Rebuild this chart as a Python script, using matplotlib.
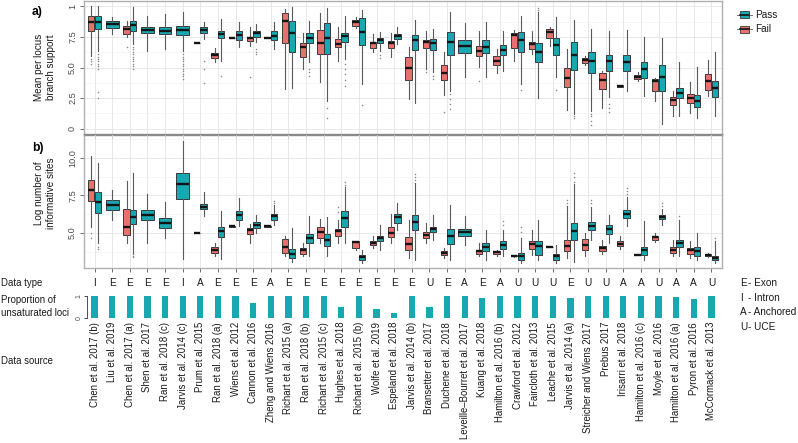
import matplotlib
matplotlib.use('Agg')
import matplotlib.pyplot as plt
from matplotlib.patches import Rectangle
from matplotlib.lines import Line2D
from matplotlib.transforms import blended_transform_factory

plt.rcParams['font.family'] = ['Liberation Sans', 'DejaVu Sans']

# ---------------- data ----------------
sources = ["Chen et al. 2017 (b)", "Liu et al. 2019", "Chen et al. 2017 (a)", "Shen et al. 2017",
           "Ran et al. 2018 (c)", "Jarvis et al. 2014 (c)", "Prum et al. 2015", "Ran et al. 2018 (a)",
           "Wiens et al. 2012", "Cannon et al. 2016", "Zheng and Wiens 2016", "Richart et al. 2015 (a)",
           "Ran et al. 2018 (b)", "Richart et al. 2015 (c)", "Hughes et al. 2018", "Richart et al. 2015 (b)",
           "Wolfe et al. 2019", "Espeland et al. 2018", "Jarvis et al. 2014 (b)", "Bransetter et al. 2017",
           "Duchene et al. 2018", "Leveille\u2013Bourret et al. 2017", "Kuang et al. 2018", "Hamilton et al. 2016 (b)",
           "Crawford et al. 2012", "Faircloth et al. 2013", "Leache et al. 2015", "Jarvis et al. 2014 (a)",
           "Streicher and Wiens 2017", "Prebus 2017", "Irisarri et al. 2018", "Hamilton et al. 2016 (c)",
           "Moyle et al. 2016", "Hamilton et al. 2016 (a)", "Pyron et al. 2016", "McCormack et al. 2013"]

data_types = ["I", "E", "E", "E", "E", "I", "A", "E", "E", "E", "A", "E", "E", "E", "E", "E", "E", "E",
              "E", "U", "E", "A", "E", "A", "U", "U", "U", "E", "U", "U", "A", "A", "U", "A", "A", "U"]

unsaturated = [0.97, 1.0, 1.0, 1.0, 1.0, 1.0, 1.0, 1.0, 0.98, 0.68, 1.0, 1.0, 1.0, 1.0, 0.5, 1.0, 0.4, 0.22,
               1.0, 0.5, 1.0, 1.0, 0.9, 1.0, 1.0, 1.0, 0.99, 0.9, 1.0, 1.0, 1.0, 1.0, 1.0, 0.95, 0.84, 1.0]

# five-number summaries (whisker low, Q1, median, Q3, whisker high); None = group absent
a_fail = [(5.97, 7.97, 8.71, 9.2, 10.0), None, (7.48, 7.75, 8.16, 8.44, 8.8), None, None, None,
          (6.99, 6.99, 7.0, 7.01, 7.01), (5.42, 5.78, 6.03, 6.19, 6.58), (7.42, 7.42, 7.43, 7.44, 7.44),
          (6.8, 7.21, 7.4, 7.53, 8.36), (7.42, 7.42, 7.43, 7.44, 7.44), (3.23, 6.99, 8.79, 9.48, 9.81),
          (4.88, 5.89, 6.66, 6.99, 7.81), (3.78, 6.11, 6.99, 8.08, 9.45), (5.56, 6.66, 6.93, 7.34, 8.3),
          (8.25, 8.44, 8.71, 8.9, 9.18), (6.25, 6.6, 6.99, 7.12, 7.75), (5.84, 6.6, 6.99, 7.21, 7.81),
          (2.41, 3.97, 4.93, 5.89, 6.66), (4.88, 6.6, 7.07, 7.26, 8.03), (2.74, 3.97, 4.55, 5.23, 6.25),
          None, (5.01, 5.97, 6.38, 6.74, 7.97), (4.52, 5.23, 5.56, 5.92, 6.52),
          (5.56, 6.58, 7.67, 7.84, 8.11), (6.11, 6.52, 6.93, 7.07, 7.89), (6.8, 7.42, 7.89, 8.16, 8.36),
          (1.53, 3.45, 4.11, 4.93, 6.52), (5.21, 5.37, 5.62, 5.78, 5.97), (1.73, 3.23, 4.0, 4.55, 4.74),
          (3.45, 3.45, 3.5, 3.55, 3.55), (3.92, 4.05, 4.25, 4.38, 4.6), (2.27, 3.1, 3.92, 4.05, 4.11),
          (1.04, 1.92, 2.33, 2.55, 3.1), (1.32, 2.08, 2.47, 2.82, 3.78), (2.68, 3.15, 3.86, 4.47, 5.62)]

a_pass = [(6.38, 8.16, 8.71, 9.2, 10.0), (7.75, 8.25, 8.58, 8.79, 9.18), (6.93, 7.97, 8.49, 8.85, 9.95),
          (6.38, 7.81, 8.08, 8.36, 9.26), (6.52, 7.75, 8.03, 8.3, 9.4), (6.38, 7.67, 8.08, 8.38, 9.59),
          (7.34, 7.84, 8.08, 8.3, 8.77), (5.56, 7.4, 7.75, 8.03, 8.99), (6.66, 7.29, 7.67, 8.03, 8.71),
          (7.07, 7.53, 7.81, 7.97, 8.58), (6.52, 7.26, 7.62, 7.97, 8.71), (3.29, 6.3, 7.81, 8.85, 9.95),
          (5.42, 6.99, 7.42, 7.81, 8.85), (2.27, 6.11, 7.42, 8.63, 9.89), (5.7, 7.12, 7.56, 7.84, 9.2),
          (3.64, 6.85, 7.89, 9.07, 9.73), (6.38, 6.99, 7.26, 7.42, 7.89), (6.93, 7.34, 7.56, 7.75, 8.3),
          (2.14, 6.44, 7.26, 7.67, 8.9), (4.6, 6.44, 6.99, 7.34, 8.16), (3.1, 6.03, 7.12, 7.95, 9.53),
          (4.19, 6.16, 6.74, 7.29, 8.63), (4.19, 6.16, 6.71, 7.26, 8.77), (4.74, 6.03, 6.44, 6.88, 8.03),
          (3.64, 6.25, 7.26, 7.95, 9.26), (2.47, 5.42, 6.25, 6.99, 9.53), (4.19, 6.03, 6.85, 7.42, 9.18),
          (1.18, 4.79, 6.05, 7.07, 8.9), (1.45, 4.55, 5.51, 6.25, 8.16), (2.55, 4.74, 5.51, 6.05, 7.97),
          (3.1, 4.74, 5.48, 6.03, 8.08), (2.68, 4.11, 4.88, 5.42, 7.48), (0.36, 3.1, 4.19, 5.21, 7.42),
          (1.04, 2.47, 2.9, 3.32, 5.42), (0.9, 1.81, 2.27, 2.77, 5.07), (1.04, 2.63, 3.29, 3.92, 6.25)]

b_fail = [(5.37, 7.14, 7.86, 8.52, 10.11), None, (4.34, 4.89, 5.4, 6.61, 8.48), None, None, None,
          (4.99, 4.99, 5.0, 5.01, 5.01), (3.46, 3.68, 3.9, 4.07, 4.34), (5.43, 5.43, 5.44, 5.45, 5.45),
          (4.34, 4.93, 5.22, 5.33, 5.62), (5.43, 5.43, 5.44, 5.45, 5.45), (3.46, 3.68, 4.07, 4.6, 4.82),
          (3.5, 3.63, 3.85, 4.0, 4.34), (4.34, 4.67, 5.04, 5.4, 5.93), (4.34, 4.82, 5.11, 5.26, 5.88),
          (3.9, 4.0, 4.38, 4.45, 4.45), (4.0, 4.19, 4.34, 4.45, 4.82), (4.34, 4.74, 5.0, 5.4, 6.28),
          (3.35, 3.9, 4.27, 4.74, 5.88), (4.34, 4.67, 4.89, 5.04, 5.66), (3.35, 3.52, 3.68, 3.79, 4.0),
          None, (3.46, 3.63, 3.79, 3.9, 4.34), (3.5, 3.61, 3.72, 3.79, 3.9),
          (3.44, 3.46, 3.5, 3.52, 3.54), (3.57, 3.96, 4.27, 4.45, 5.22), (4.06, 4.06, 4.07, 4.08, 4.08),
          (3.35, 3.79, 4.16, 4.56, 6.8), (3.46, 3.85, 4.23, 4.6, 5.0), (3.63, 3.83, 4.0, 4.16, 4.56),
          (3.96, 4.12, 4.3, 4.45, 4.78), (3.51, 3.51, 3.52, 3.53, 3.53), (4.38, 4.56, 4.74, 4.82, 5.0),
          (3.46, 3.68, 3.9, 4.07, 4.56), (3.35, 3.61, 3.85, 4.0, 4.45), (3.39, 3.46, 3.52, 3.61, 3.68)]

b_pass = [(4.34, 6.32, 7.09, 7.75, 9.63), (5.88, 6.54, 6.87, 7.2, 7.86), (3.68, 5.59, 6.06, 6.54, 8.96),
          (4.34, 5.88, 6.21, 6.54, 7.6), (4.67, 5.33, 5.66, 5.99, 7.09), (3.3, 7.27, 8.26, 9.0, 11.1),
          (6.1, 6.59, 6.76, 6.94, 7.75), (3.3, 4.74, 5.11, 5.37, 6.43), (5.44, 5.88, 6.17, 6.48, 7.31),
          (5.0, 5.33, 5.55, 5.7, 6.21), (5.55, 5.88, 6.1, 6.28, 6.87), (3.1, 3.35, 3.63, 3.94, 5.33),
          (3.46, 4.34, 4.67, 4.96, 6.1), (3.46, 4.12, 4.56, 4.93, 6.06), (4.34, 5.4, 5.99, 6.48, 8.08),
          (3.0, 3.19, 3.41, 3.57, 3.9), (3.9, 4.45, 4.67, 4.82, 5.55), (5.22, 5.66, 6.06, 6.28, 6.98),
          (3.2, 5.18, 5.73, 6.21, 8.3), (4.56, 5.04, 5.26, 5.4, 6.21), (3.24, 4.27, 4.82, 5.26, 6.87),
          (4.23, 4.82, 5.07, 5.26, 6.1), (3.24, 3.79, 4.07, 4.34, 5.22), (3.46, 3.96, 4.23, 4.45, 5.22),
          (3.0, 3.19, 3.46, 3.68, 4.67), (3.24, 3.57, 4.12, 4.49, 5.84), (3.02, 3.24, 3.46, 3.63, 4.23),
          (3.1, 4.52, 5.11, 5.66, 8.26), (4.56, 5.22, 5.48, 5.73, 6.76), (4.34, 4.96, 5.29, 5.55, 6.21),
          (5.44, 5.99, 6.26, 6.54, 7.42), (3.24, 3.52, 3.85, 4.07, 5.77), (5.55, 5.93, 6.06, 6.17, 6.61),
          (3.46, 4.07, 4.34, 4.56, 5.88), (3.24, 3.46, 3.79, 4.07, 5.0), (3.0, 3.19, 3.35, 3.5, 4.45)]

# outliers keyed by data-source index
a_fail_out = {0: [5.3, 5.5, 5.7], 2: [6.7], 9: [4.2], 19: [4.6], 20: [1.37], 22: [3.9], 25: [8.0]}
a_pass_out = {0: [2.47, 2.96, 4.9, 5.1, 5.3, 5.5, 5.7, 5.9, 6.1],
              2: [4.9, 5.1, 5.3, 5.5, 5.7, 5.9, 6.1, 6.3, 6.5, 6.7],
              5: [4.05, 4.3, 4.5, 4.7, 4.9, 5.1, 5.3, 5.5, 5.7, 5.9, 6.1],
              6: [3.7, 4.9, 5.56], 7: [4.33], 9: [6.1, 6.3, 6.5], 12: [4.33, 4.6, 4.9],
              13: [0.9, 1.73], 14: [3.5, 4.0, 4.5, 4.9, 5.3], 15: [1.95], 16: [5.78, 6.0],
              19: [4.1, 4.3], 20: [1.59, 2.0, 2.4, 2.8], 24: [3.2], 25: [9.7, 9.9], 26: [3.2],
              27: [0.9, 1.0], 28: [0.3, 0.6, 1.0, 1.2], 29: [1.4, 1.7, 2.0]}
b_fail_out = {0: [4.67, 5.0], 14: [6.4, 6.72], 27: [7.0, 7.2]}
b_pass_out = {0: [3.94, 4.1], 2: [3.4, 3.5, 3.6], 10: [7.0, 7.1], 14: [8.2, 8.4], 18: [8.5, 8.7, 8.9],
              23: [5.5, 5.8], 24: [5.1, 5.4], 27: [8.4, 8.7, 9.0], 28: [7.0, 7.2],
              30: [7.6, 7.8, 8.0], 32: [6.8, 7.0], 33: [6.1], 35: [4.7]}

a_ticks = [0, 2.5, 5.0, 7.5, 10]
a_ticklabels = ["0", "2.5", "5.0", "7.5", "1"]
b_ticks = [5.0, 7.5, 10.0]
b_ticklabels = ["5.0", "7.5", "10.0"]

type_legend = [("E", "- Exon"), ("I", "- Intron"), ("A", "- Anchored"), ("U", "- UCE")]

# ---------------- figure ----------------
PASS = '#17A8B2'
FAIL = '#E8716E'
TXT = '#1a1a1a'
W, H = 798, 443
fig = plt.figure(figsize=(W / 100, H / 100), dpi=100)


def rect(l, t, r, b):
    return [l / W, 1 - b / H, (r - l) / W, (b - t) / H]


def fy(y):
    return 1 - y / H


axA = fig.add_axes(rect(84, 1, 722, 135))
axB = fig.add_axes(rect(84, 134, 722, 268))
axU = fig.add_axes(rect(87, 295.7, 722, 317.7))

n = len(sources)


def draw(ax, fail, pas, fail_out, pass_out):
    for i in range(n):
        if fail[i] is None:
            items = [(pas[i], i, 0.72, PASS, pass_out.get(i, []))]
        else:
            items = [(fail[i], i - 0.1875, 0.36, FAIL, fail_out.get(i, [])),
                     (pas[i], i + 0.1875, 0.36, PASS, pass_out.get(i, []))]
        for st, pos, w, col, out in items:
            lo, q1, med, q3, hi = st
            stats = [dict(whislo=lo, q1=q1, med=med, q3=q3, whishi=hi, fliers=out)]
            ax.bxp(stats, positions=[pos], widths=[w], patch_artist=True, showcaps=False,
                   manage_ticks=False,
                   boxprops=dict(facecolor=col, edgecolor='#3a3a3a', linewidth=0.7),
                   medianprops=dict(color='#141414', linewidth=1.7, solid_capstyle='butt'),
                   whiskerprops=dict(color='#5a5a5a', linewidth=0.8),
                   flierprops=dict(marker='o', markersize=1.1, markerfacecolor='#888888',
                                   markeredgecolor='none'))


draw(axA, a_fail, a_pass, a_fail_out, a_pass_out)
draw(axB, b_fail, b_pass, b_fail_out, b_pass_out)

for ax in (axA, axB):
    ax.set_xlim(-0.6, n - 0.4)
    ax.set_xticks(range(n))
    ax.set_xticklabels([])
    ax.tick_params(axis='x', length=3, color='#555555', width=0.6)
    ax.tick_params(axis='y', length=3, color='#555555', width=0.6, pad=2,
                   labelsize=6.6, labelcolor='#4d4d4d')
    ax.grid(which='major', color='#e4e4e4', linewidth=0.6)
    ax.grid(which='minor', axis='y', color='#f0f0f0', linewidth=0.4)
    ax.tick_params(which='minor', length=0)
    for s in ax.spines.values():
        s.set_color('#b0b0b0')
        s.set_linewidth(1.0)
    ax.set_axisbelow(True)

axA.set_ylim(-0.52, 10.45)
axA.set_yticks(a_ticks)
axA.set_yticklabels(a_ticklabels, rotation=90, va='center')
axA.set_yticks([1.25, 3.75, 6.25, 8.75], minor=True)
axA.spines['bottom'].set_color('#8a8a8a')

axB.set_ylim(2.68, 11.57)
axB.set_yticks(b_ticks)
axB.set_yticklabels(b_ticklabels, rotation=90, va='center')
axB.set_yticks([3.75, 6.25, 8.75, 11.25], minor=True)
axB.spines['top'].set_color('#8a8a8a')
axB.patch.set_alpha(0)

# proportion of unsaturated loci
axU.bar(range(n), unsaturated, width=0.36, color=PASS)
axU.set_xlim(-0.43, n - 0.4)
axU.set_ylim(0, 1)
for k in ('top', 'right', 'bottom'):
    axU.spines[k].set_visible(False)
axU.spines['left'].set_color('#333333')
axU.spines['left'].set_linewidth(0.6)
axU.set_xticks([])
axU.set_yticks([0, 1])
axU.set_yticklabels(["0", "1"], rotation=90, va='center', fontsize=5.0, color='#4d4d4d')
axU.tick_params(axis='y', length=2, width=0.6, pad=1, color='#333333')
axU.patch.set_alpha(0)

tr = blended_transform_factory(axA.transData, fig.transFigure)
for i in range(n):
    fig.text(i, fy(283), data_types[i], transform=tr, ha='center', va='center',
             fontsize=7.3, color=TXT)
    fig.text(i, fy(322), sources[i], transform=tr, ha='center', va='top', rotation=90,
             fontsize=6.95, color=TXT)

# left labels
LS = 6.9
fig.text(1 / W, fy(283), "Data type", ha='left', va='center', fontsize=LS, color=TXT)
fig.text(1 / W, fy(300), "Proportion of", ha='left', va='center', fontsize=LS, color=TXT)
fig.text(1 / W, fy(313.5), "unsaturated loci", ha='left', va='center', fontsize=LS, color=TXT)
fig.text(1 / W, fy(360.5), "Data source", ha='left', va='center', fontsize=LS, color=TXT)

# y-axis titles
YS = 7.1
fig.text(39.5 / W, fy(67), "Mean per locus", rotation=90, ha='center', va='center', fontsize=YS,
         color=TXT)
fig.text(50.5 / W, fy(67), "branch support", rotation=90, ha='center', va='center', fontsize=YS,
         color=TXT)
fig.text(39.5 / W, fy(193), "Log number of", rotation=90, ha='center', va='center', fontsize=YS,
         color=TXT)
fig.text(50.5 / W, fy(193), "informative sites", rotation=90, ha='center', va='center', fontsize=YS,
         color=TXT)

# panel labels
fig.text(32 / W, fy(12.5), "a)", ha='left', va='center', fontsize=8.8, fontweight='bold')
fig.text(32 / W, fy(148), "b)", ha='left', va='center', fontsize=8.8, fontweight='bold')

# Pass / Fail legend
for lab, col, yc in (("Pass", PASS, 14.7), ("Fail", FAIL, 29.3)):
    fig.add_artist(Line2D([737 / W, 752 / W], [fy(yc), fy(yc)], color='#777777', lw=0.7))
    fig.add_artist(Rectangle((740 / W, fy(yc + 3.4)), 9 / W, 6.8 / H, facecolor=col,
                             edgecolor='#3a3a3a', lw=0.6))
    fig.add_artist(Line2D([740 / W, 749 / W], [fy(yc), fy(yc)], color='#141414', lw=1.2))
    fig.text(755 / W, fy(yc), lab, ha='left', va='center', fontsize=7.2, color=TXT)

# data type legend
for k, (letter, desc) in enumerate(type_legend):
    yy = 283 + k * 14.6
    fig.text(740 / W, fy(yy), letter, ha='left', va='center', fontsize=7.2, color=TXT)
    fig.text(748 / W, fy(yy), desc, ha='left', va='center', fontsize=7.2, color=TXT)

fig.savefig('out.png', dpi=100)
